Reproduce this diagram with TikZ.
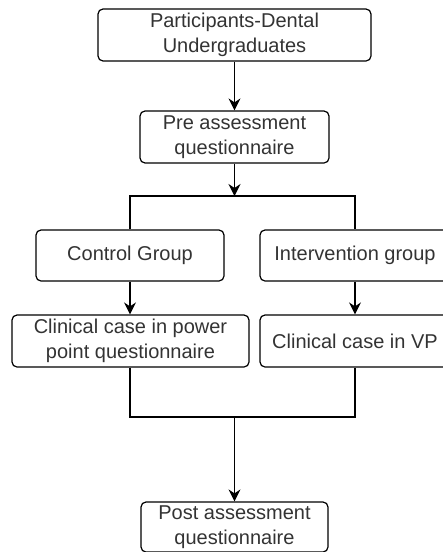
\documentclass[tikz,border=0pt]{standalone}
\usepackage{fontspec}
\setmainfont{Liberation Sans}
\usetikzlibrary{arrows.meta}
\begin{document}
\begin{tikzpicture}[x=1pt,y=-1pt,
  box/.style={draw,rounded corners=5pt,line width=1.2pt,align=center,
    text=black!80,font=\fontsize{20}{25}\selectfont,inner sep=0pt},
  flow/.style={line width=1.2pt,-{Stealth[length=12pt,width=12pt,inset=4pt]}}]
\useasboundingbox (0,0) rectangle (443,552);
\node[box,minimum width=273pt,minimum height=52pt] (part) at (234.5,35) {Participants-Dental\\Undergraduates};
\node[box,minimum width=189pt,minimum height=52pt] (pre) at (234.5,137) {Pre assessment\\questionnaire};
\node[box,minimum width=188pt,minimum height=51pt] (ctrl) at (130,255.5) {Control Group};
\node[box,minimum width=190pt,minimum height=51pt] (intv) at (355,255.5) {Intervention group};
\node[box,minimum width=237pt,minimum height=52pt] (ppt) at (130.5,341) {Clinical case in power\\point questionnaire};
\node[box,minimum width=190pt,minimum height=52pt] (vp) at (355,341) {Clinical case in VP};
\node[box,minimum width=187pt,minimum height=50pt] (post) at (234.5,527) {Post assessment\\questionnaire};
\coordinate (split) at (234.5,196);
\coordinate (merge) at (234.5,417);
\draw[flow] (part) -- (pre);
\draw[flow] (pre) -- (split);
\draw[line width=1.2pt] (ctrl.north) |- (split) -| (intv.north);
\draw[flow] (ctrl) -- (ctrl |- ppt.north);
\draw[flow] (intv) -- (vp);
\draw[line width=1.2pt] (ctrl |- ppt.south) |- (merge) -| (vp.south);
\draw[flow] (merge) -- (post);
\end{tikzpicture}
\end{document}
